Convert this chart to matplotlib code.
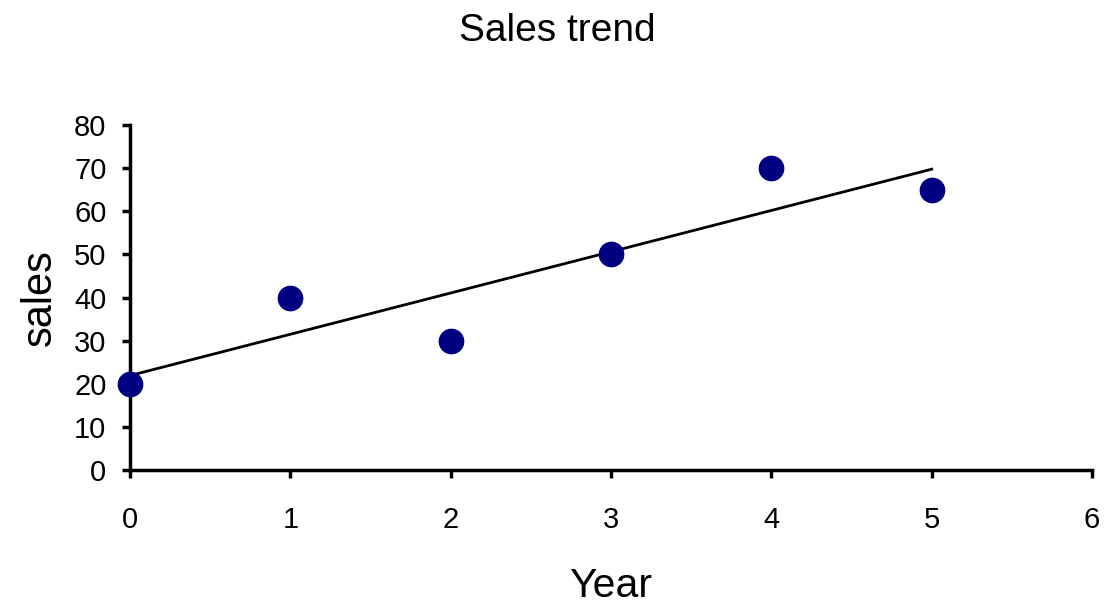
import matplotlib
matplotlib.use('Agg')
import matplotlib.pyplot as plt
import numpy as np

plt.rcParams['font.family'] = ['Liberation Sans', 'DejaVu Sans']

# data
years = [0, 1, 2, 3, 4, 5]
sales = [20, 40, 30, 50, 70, 65]

fig = plt.figure(figsize=(11.14, 6.06), dpi=100)
ax = fig.add_axes([0.1167, 0.2244, 0.8636, 0.5693])

ax.plot(years, sales, 'o', color='#000080', markersize=17.5, zorder=3, clip_on=False)

# linear trend line
slope, intercept = np.polyfit(years, sales, 1)
xs = np.array([years[0], years[-1]])
ax.plot(xs, slope * xs + intercept, color='black', linewidth=2, zorder=2)

ax.set_xlim(0, 6)
ax.set_ylim(0, 80)
ax.set_xticks(range(0, 7))
ax.set_yticks(range(0, 81, 10))

for s in ['top', 'right']:
    ax.spines[s].set_visible(False)
for s in ['left', 'bottom']:
    ax.spines[s].set_linewidth(2.5)

ax.tick_params(axis='both', direction='out', length=6, width=2.5, labelsize=21)
ax.tick_params(axis='x', pad=20)
ax.tick_params(axis='y', pad=11)

ax.set_xlabel('Year', fontsize=29.5, labelpad=24)
ax.set_ylabel('sales', fontsize=30, labelpad=10)
fig.suptitle('Sales trend', fontsize=28, y=0.978)

fig.savefig('out.png', dpi=100)
